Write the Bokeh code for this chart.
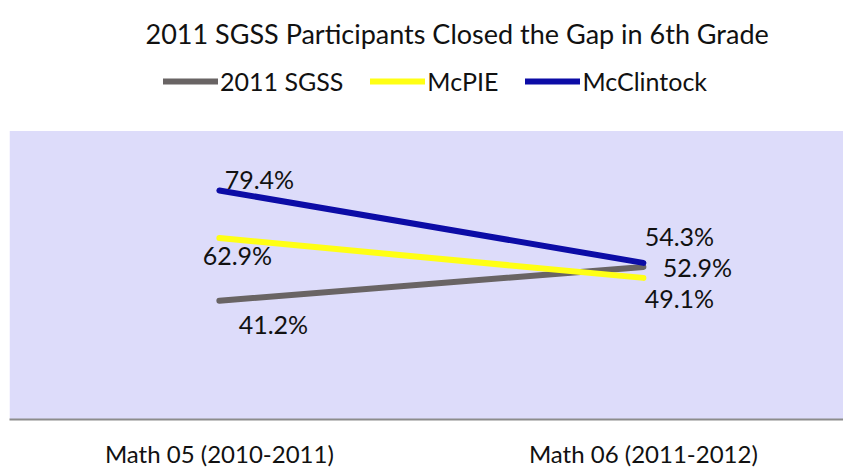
from bokeh.plotting import figure
from bokeh.models import (Range1d, FixedTicker, Legend, LegendItem,
                          ColumnDataSource, BoxAnnotation)
from bokeh.core.properties import value
from bokeh.embed import file_html
from bokeh.resources import INLINE

# ---- data ----
categories = ["Math 05 (2010-2011)", "Math 06 (2011-2012)"]
series_names = ["2011 SGSS", "McPIE", "McClintock"]
sgss = [41.2, 52.9]
mcpie = [62.9, 49.1]
mcclintock = [79.4, 54.3]
title_text = "2011 SGSS Participants Closed the Gap in 6th Grade"
value_max = 100

# ---- styles ----
colors = ["#696464", "#ffff14", "#0c0ca6"]
FONT = "Lato"
label_offsets = {
    "2011 SGSS": [(54, 23), (54, 0)],
    "McPIE": [(18, 17), (36, 20)],
    "McClintock": [(40, -11), (36, -27)],
}

xs = list(range(len(categories)))

# frame: x 9..843, y 54..421 ; value 0..100 occupies 421..131
p = figure(width=843, height=470, output_backend="svg", toolbar_location=None,
           x_range=Range1d(-0.495, 1.472), y_range=Range1d(0, 126.55),
           min_border_left=9, min_border_right=0, min_border_top=54,
           min_border_bottom=49)
p.background_fill_color = "white"
p.border_fill_color = "white"
p.outline_line_color = None
p.grid.visible = False

p.add_layout(BoxAnnotation(bottom=0, top=value_max, fill_color="#dddcfa",
                           fill_alpha=1, line_color=None, level="underlay"))

p.title.text = title_text
p.title.align = "left"
p.title.offset = 136
p.title.text_font = FONT
p.title.text_font_size = "27px"
p.title.text_font_style = "normal"
p.title.text_color = "#111111"

p.yaxis.visible = False
p.xaxis.ticker = FixedTicker(ticks=xs)
p.xaxis.major_label_overrides = {i: c for i, c in zip(xs, categories)}
p.xaxis.major_tick_line_color = None
p.xaxis.minor_tick_line_color = None
p.xaxis.major_tick_out = 0
p.xaxis.major_tick_in = 0
p.xaxis.axis_line_color = "#8c8c8c"
p.xaxis.axis_line_width = 2
p.xaxis.major_label_standoff = 19
p.xaxis.major_label_text_font = FONT
p.xaxis.major_label_text_font_size = "24px"
p.xaxis.major_label_text_color = "#111111"

items = []
for name, vals, col in zip(series_names, [sgss, mcpie, mcclintock], colors):
    r = p.line(xs, vals, line_color=col, line_width=6, line_cap="round")
    items.append(LegendItem(label=name, renderers=[r]))
    src = ColumnDataSource(dict(x=xs, y=vals, t=[f"{v:.1f}%" for v in vals],
                                dx=[o[0] for o in label_offsets[name]],
                                dy=[o[1] for o in label_offsets[name]]))
    p.text(x="x", y="y", text="t", source=src, x_offset="dx", y_offset="dy",
           text_align="center", text_baseline="middle",
           text_font=value(FONT), text_font_size="25px", text_color="#111111")

legend = Legend(items=items, orientation="horizontal", location=(154, 323),
                glyph_width=55, glyph_height=20, label_standoff=2, spacing=27,
                label_text_font=FONT, label_text_font_size="25px",
                label_text_color="#111111", border_line_color=None,
                background_fill_alpha=0, padding=0, margin=0)
p.add_layout(legend, "center")

open("out.html", "w").write(file_html(p, INLINE))
